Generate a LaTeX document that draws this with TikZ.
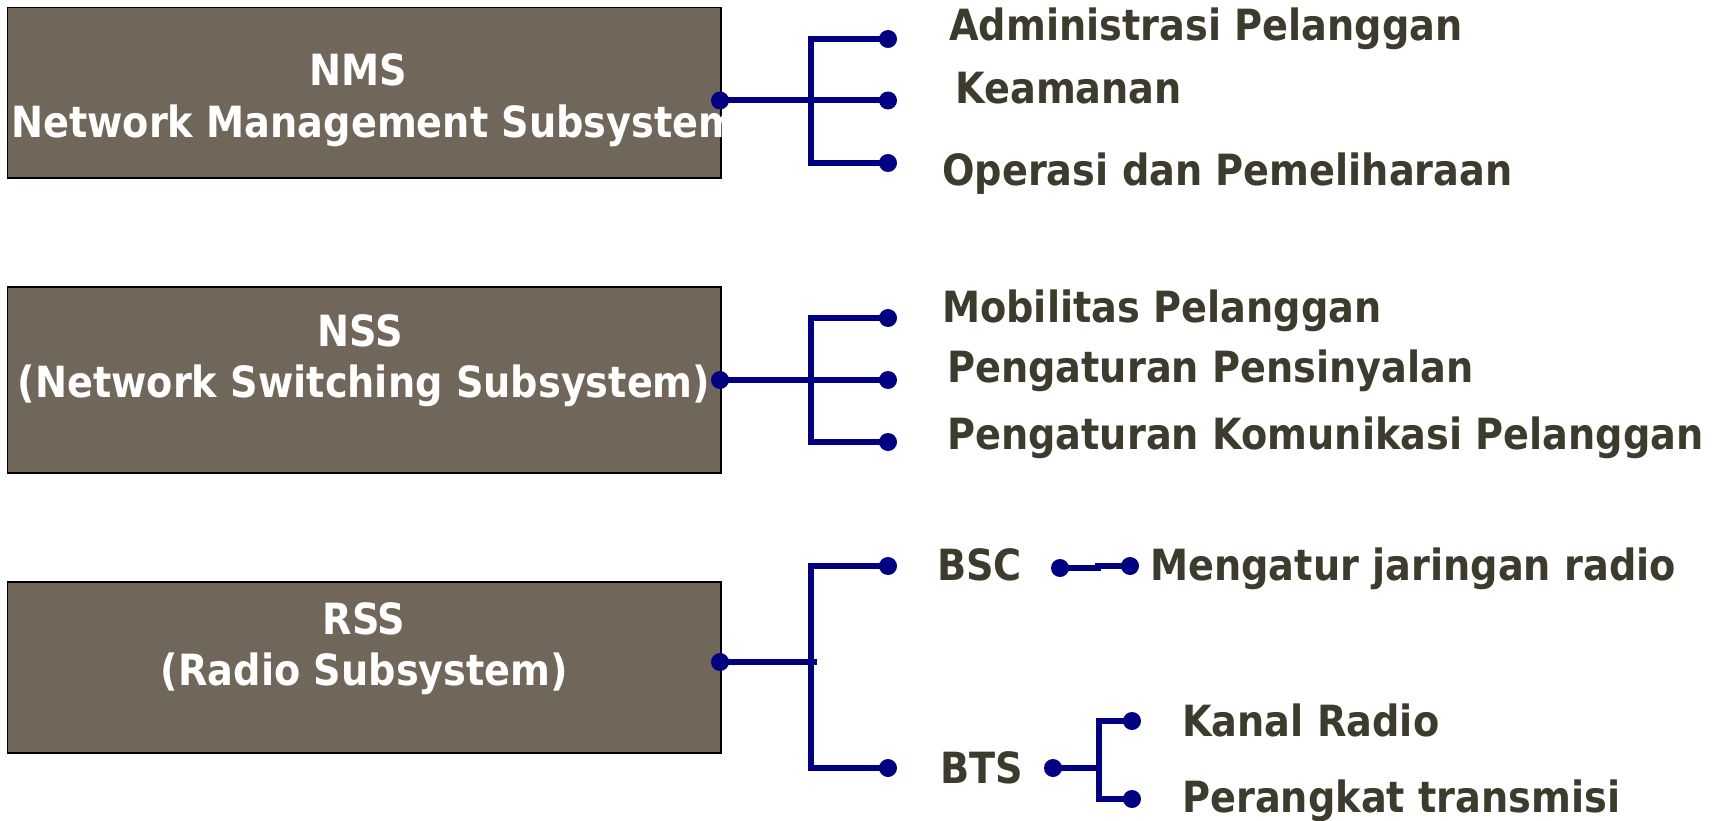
\documentclass[tikz,border=0pt]{standalone}
\usepackage{fontspec}
\newfontfamily\labfont[FakeStretch=0.89]{DejaVu Sans Bold}
\definecolor{boxfill}{HTML}{70675A}
\definecolor{labtext}{HTML}{3D3B2E}
\definecolor{linkblue}{HTML}{000080}
\begin{document}
\begin{tikzpicture}[x=1pt,y=-1pt,
  sysbox/.style={draw=black, line width=1.5pt, fill=boxfill, inner sep=0,
    minimum width=713.4pt},
  link/.style={draw=linkblue, line width=6pt},
  tip/.style={circle, fill=linkblue, inner sep=0, minimum size=18pt},
  lab/.style={anchor=base west, text=labtext, inner sep=0,
    font=\labfont\fontsize{43}{50}\selectfont},
  boxtxt/.style={anchor=base, text=white, inner sep=0,
    font=\labfont\fontsize{43}{50}\selectfont}]
\useasboundingbox (0,0) rectangle (1713,821);

% subsystem boxes
\node[sysbox, minimum height=170.4pt] (nms) at (364.3,92.8) {};
\node[sysbox, minimum height=186pt]   (nss) at (364.3,380) {};
\node[sysbox, minimum height=171pt]   (rss) at (364.3,667.5) {};

% box captions
\node[boxtxt] (nmsA) at (358,86) {NMS};
\begin{scope}
  \clip (nms.south west) rectangle (nms.north east);
  \node[boxtxt, anchor=base west] (nmsB) at (11,138) {Network Management Subsystem};
\end{scope}
\node[boxtxt] (nssA) at (360,346) {NSS};
\node[boxtxt] (nssB) at (364,397) {(Network Switching Subsystem)};
\node[boxtxt] (rssA) at (364,634) {RSS};
\node[boxtxt] (rssB) at (364.5,685) {(Radio Subsystem)};

% NMS branch
\node[tip] (d1) at (720,100.5) {};
\coordinate (j1) at (811,100.5);
\node[tip] (t11) at (888,39) {};
\node[tip] (t12) at (888,100.5) {};
\node[tip] (t13) at (888,163) {};
\draw[link] (d1.center) -- (t12.center);
\draw[link] (t11.center) -| (j1) |- (t13.center);
\node[lab] (l11) at (949,41) {Administrasi Pelanggan};
\node[lab] (l12) at (955,104) {Keamanan};
\node[lab] (l13) at (942,186) {Operasi dan Pemeliharaan};

% NSS branch
\node[tip] (d2) at (720,380) {};
\coordinate (j2) at (811,380);
\node[tip] (t21) at (888,318) {};
\node[tip] (t22) at (888,380) {};
\node[tip] (t23) at (888,442) {};
\draw[link] (d2.center) -- (t22.center);
\draw[link] (t21.center) -| (j2) |- (t23.center);
\node[lab] (l21) at (942,322) {Mobilitas Pelanggan};
\node[lab] (l22) at (947,382) {Pengaturan Pensinyalan};
\node[lab] (l23) at (947,449) {Pengaturan Komunikasi Pelanggan};

% RSS branch
\node[tip] (d3) at (720,662) {};
\coordinate (j3) at (811,662);
\node[tip] (t31) at (888,566) {};
\node[tip] (t32) at (888,768) {};
\draw[link] (d3.center) -- ([xshift=6pt]j3);
\draw[link] (t31.center) -| (j3) |- (t32.center);
\node[lab] (bsc) at (937,580) {BSC};
\node[lab] (bts) at (940,783) {BTS};

% BSC detail
\node[tip] (b1) at (1060,568) {};
\node[tip] (b2) at (1130,566) {};
\draw[link] (b1.center) -- ++(38,0) |- (b2.center);
\node[lab] (bscA) at (1150,580) {Mengatur jaringan radio};

% BTS detail
\node[tip] (c0) at (1053,768) {};
\coordinate (jc) at (1099,768);
\node[tip] (c1) at (1132,721) {};
\node[tip] (c2) at (1132,799) {};
\draw[link] (c0.center) -- (jc);
\draw[link] (c1.center) -| (jc) |- (c2.center);
\node[lab] (btsA) at (1182,736) {Kanal Radio};
\node[lab] (btsB) at (1182,812) {Perangkat transmisi};
\end{tikzpicture}
\end{document}
